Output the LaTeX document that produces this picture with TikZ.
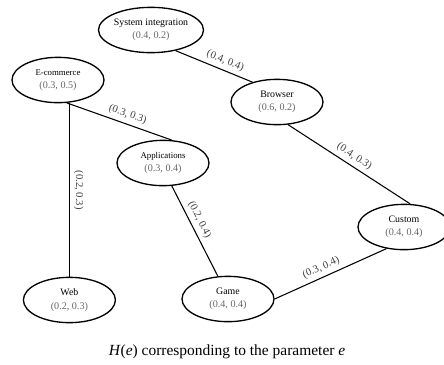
\documentclass[tikz,border=0pt]{standalone}
\usepackage{fontspec}
\setmainfont{Liberation Serif}
\usetikzlibrary{shapes.geometric}

\begin{document}
\begin{tikzpicture}[
    x=0.75pt, y=-0.75pt,
    field/.style={ellipse, draw, line width=1pt, minimum width=69pt, minimum height=34pt,
                  inner sep=0pt, align=center, font=\fontsize{7.4}{10}\selectfont},
    small/.style={font=\fontsize{6.6}{10}\selectfont},
    link/.style={line width=0.8pt},
    weight/.style={sloped, above, inner sep=3pt, text=black!75, font=\fontsize{8}{9}\selectfont},
]
\newcommand{\val}[1]{{\color{black!60}\fontsize{7.6}{10}\selectfont #1}}

\useasboundingbox (0,0) rectangle (444,365);

% === Nodes ===
\node[field] (sysint) at (151,30) {System integration\\ \val{(0.4, 0.2)}};
\node[field, small] (ecom) at (58,80) {E-commerce\\ \val{(0.3, 0.5)}};
\node[field] (browser) at (277,102) {Browser\\ \val{(0.6, 0.2)}};
\node[field, small] (apps) at (163,163) {Applications\\ \val{(0.3, 0.4)}};
\node[field] (custom) at (404,227) {Custom\\ \val{(0.4, 0.4)}};
\node[field] (web) at (69.4,300) {Web\\ \val{(0.2, 0.3)}};
\node[field] (game) at (228,299) {Game\\ \val{(0.4, 0.4)}};

% === Links ===
\draw[link] (sysint.-40) -- node[weight, pos=0.6] {(0.4, 0.4)} (browser.141);
\draw[link] (ecom.-69) -- node[weight, pos=0.55] {(0.3, 0.3)} (apps.69);
\draw[link] (ecom.south -| web.north) -- node[weight] {(0.2, 0.3)} (web.north);
\draw[link] (apps.-69) -- node[weight, pos=0.42] {(0.2, 0.4)} (game.114);
\draw[link] (browser.-64) -- node[weight] {(0.4, 0.3)} (custom.75);
\draw[link] (game.0) -- node[weight, pos=0.45] {(0.3, 0.4)} (custom.-129);

% === Caption ===
\node[font=\fontsize{11.6}{13}\selectfont] (caption) at (227,352)
    {\textit{H}(\textit{e}) corresponding to the parameter \textit{e}};

\end{tikzpicture}
\end{document}
